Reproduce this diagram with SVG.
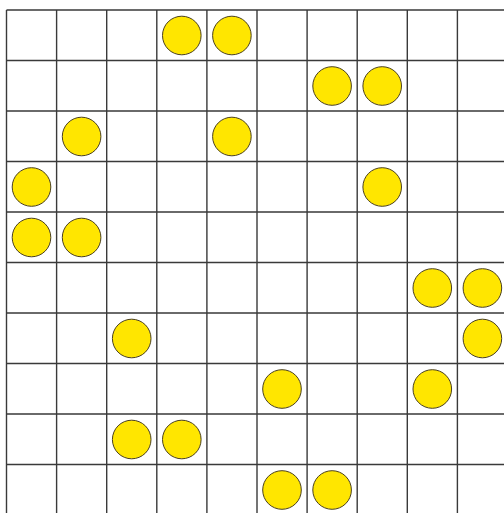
<svg xmlns="http://www.w3.org/2000/svg" width="504" height="513" viewBox="0 0 504 513">
<style>
.g{stroke:#3a3a3a;stroke-width:1.4;fill:none}
.c{fill:#ffe600;stroke:#4a4020;stroke-width:1}
</style>
<rect width="504" height="513" fill="#ffffff"/>
<g id="grid" class="g">
<path d="M6.5 10V513M56.6 10V513M106.7 10V513M156.8 10V513M206.9 10V513M257 10V513M307.1 10V513M357.2 10V513M407.3 10V513M457.4 10V513"/>
<path d="M6.5 10H504M6.5 60.5H504M6.5 111H504M6.5 161.5H504M6.5 212H504M6.5 262.5H504M6.5 313H504M6.5 363.5H504M6.5 414H504M6.5 464.5H504"/>
</g>
<g id="circles">
<g id="r0c3"><circle class="c" cx="181.8" cy="35.5" r="19.3"/></g>
<g id="r0c4"><circle class="c" cx="231.9" cy="35.5" r="19.3"/></g>
<g id="r1c6"><circle class="c" cx="332.1" cy="86" r="19.3"/></g>
<g id="r1c7"><circle class="c" cx="382.2" cy="86" r="19.3"/></g>
<g id="r2c1"><circle class="c" cx="81.6" cy="136.5" r="19.3"/></g>
<g id="r2c4"><circle class="c" cx="231.9" cy="136.5" r="19.3"/></g>
<g id="r3c0"><circle class="c" cx="31.5" cy="187" r="19.3"/></g>
<g id="r3c7"><circle class="c" cx="382.2" cy="187" r="19.3"/></g>
<g id="r4c0"><circle class="c" cx="31.5" cy="237.5" r="19.3"/></g>
<g id="r4c1"><circle class="c" cx="81.6" cy="237.5" r="19.3"/></g>
<g id="r5c8"><circle class="c" cx="432.3" cy="288" r="19.3"/></g>
<g id="r5c9"><circle class="c" cx="482.4" cy="288" r="19.3"/></g>
<g id="r6c2"><circle class="c" cx="131.7" cy="338.5" r="19.3"/></g>
<g id="r6c9"><circle class="c" cx="482.4" cy="338.5" r="19.3"/></g>
<g id="r7c5"><circle class="c" cx="282" cy="389" r="19.3"/></g>
<g id="r7c8"><circle class="c" cx="432.3" cy="389" r="19.3"/></g>
<g id="r8c2"><circle class="c" cx="131.7" cy="439.5" r="19.3"/></g>
<g id="r8c3"><circle class="c" cx="181.8" cy="439.5" r="19.3"/></g>
<g id="r9c5"><circle class="c" cx="282" cy="490" r="19.3"/></g>
<g id="r9c6"><circle class="c" cx="332.1" cy="490" r="19.3"/></g>
</g>
</svg>
